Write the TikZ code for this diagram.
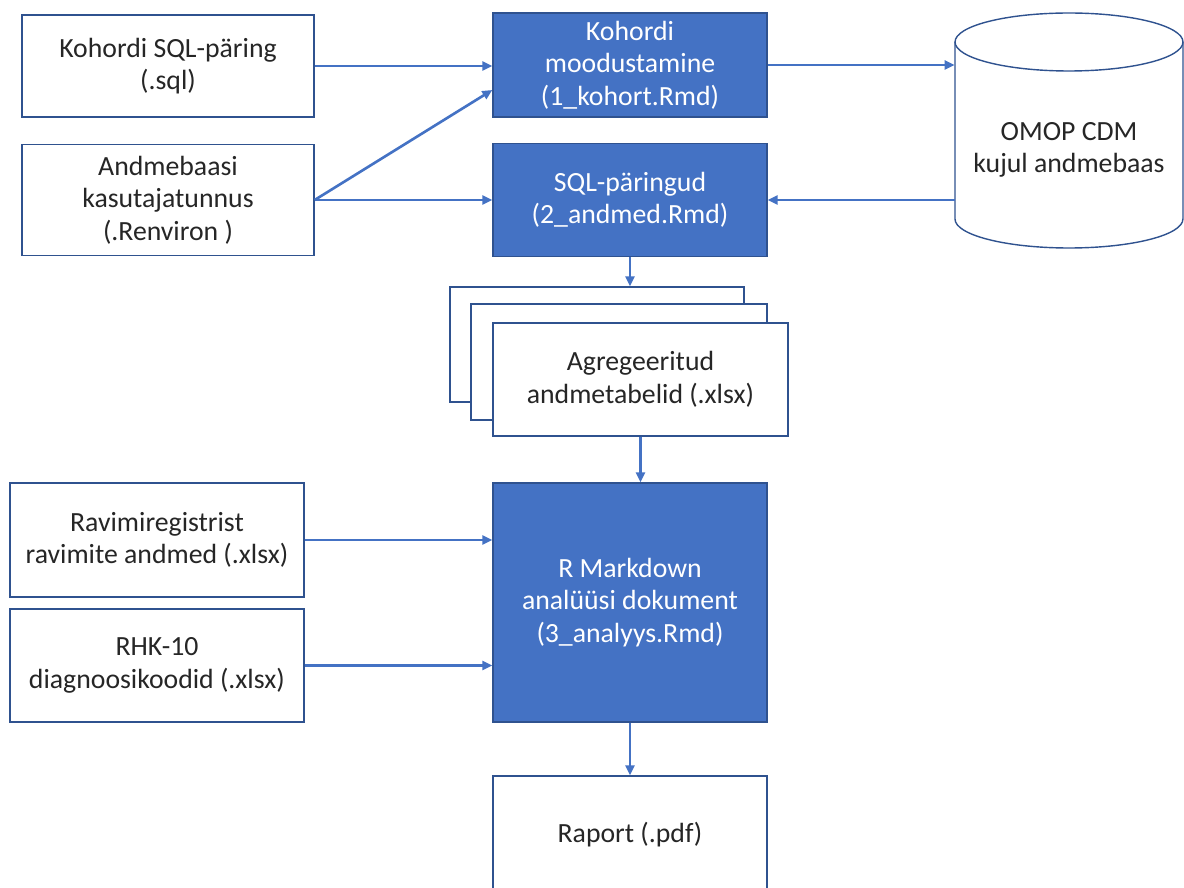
\documentclass[tikz,border=0pt]{standalone}
\usepackage{fontspec}
\setmainfont{Carlito}
\usepackage{xcolor}
\usetikzlibrary{arrows.meta, positioning}

\definecolor{plokk}{HTML}{4472C4}
\definecolor{plokkjoon}{HTML}{2F528F}
\definecolor{tekst}{HTML}{262626}

\tikzset{
  fail/.style={draw=plokkjoon, line width=0.8pt, fill=white, align=center,
    text=tekst, font=\fontsize{15.8}{18.5}\selectfont},
  skript/.style={draw=plokkjoon, line width=0.8pt, fill=plokk, align=center,
    text=white, font=\fontsize{15.8}{18.5}\selectfont, minimum width=5.48cm},
  nool/.style={draw=plokk, line width=1.5pt, -{Triangle[length=2mm,width=1.8mm]}},
}

\begin{document}
\begin{tikzpicture}[x=0.02cm, y=-0.02cm]
        \useasboundingbox (0,0) rectangle (1184,888);
        % Sisendid vasakul
        \node[fail, minimum width=5.84cm, minimum height=2.04cm] (sql) at (168,66) {Kohordi SQL-päring\\(.sql)};
        \node[fail, minimum width=5.84cm, minimum height=2.22cm] (kasutaja) at (168,200) {Andmebaasi\\kasutajatunnus\\(.Renviron )};
        % Skriptid
        \node[skript, minimum height=2.08cm] (kohort) at (630,65) {Kohordi\\moodustamine\\(1\_kohort.Rmd)};
        \node[skript, minimum height=2.26cm] (andmed) at (630,200) {SQL-päringud\\(2\_andmed.Rmd)};
        % Andmebaas (silinder)
        \draw[plokkjoon, line width=0.8pt, fill=white] (955,42) -- (955,219)
            arc[start angle=180, end angle=360, x radius=2.28cm, y radius=0.58cm] -- (1183,42);
        \draw[plokkjoon, line width=0.8pt, fill=white] (1069,42) ellipse [x radius=2.28cm, y radius=0.58cm];
        \node[align=center, text=tekst, font=\fontsize{15.8}{18.5}\selectfont,
            minimum width=4.56cm, minimum height=3.54cm] (db) at (1069,150) {OMOP CDM\\kujul andmebaas};
        % Agregeeritud tabelid (virn)
        \node[fail, minimum width=5.88cm, minimum height=2.3cm] (tabel3) at (597,344.5) {};
        \node[fail, minimum width=5.92cm, minimum height=2.32cm] (tabel2) at (619,362) {};
        \node[fail, minimum width=5.9cm, minimum height=2.26cm] (tabel) at (640.5,379.5) {Agregeeritud\\andmetabelid (.xlsx)};
        % Analüüs
        \node[skript, minimum height=4.78cm] (analyys) at (630,602.5) {R Markdown\\analüüsi dokument\\(3\_analyys.Rmd)};
        \node[fail, minimum width=5.88cm, minimum height=2.28cm] (ravim) at (157,540) {Ravimiregistrist\\ravimite andmed (.xlsx)};
        \node[fail, minimum width=5.88cm, minimum height=2.26cm] (rhk) at (157,665.5) {RHK-10\\diagnoosikoodid (.xlsx)};
        \node[fail, minimum width=5.48cm, minimum height=2.34cm] (raport) at (630,834.5) {Raport (.pdf)};
        % Nooled
        \draw[nool] (sql.east) -- (sql.east -| kohort.west);
        \draw[nool] (kasutaja.east) -- ([yshift=-0.5cm]kohort.west);
        \draw[nool] (kasutaja.east) -- (andmed.west);
        \draw[nool] (kohort.east) -- (kohort.east -| db.west);
        \draw[nool] (db.west |- andmed.east) -- (andmed.east);
        \draw[nool] (andmed.south) -- (andmed.south |- tabel3.north);
        \draw[nool] (tabel.south) -- (tabel.south |- analyys.north);
        \draw[nool] (ravim.east) -- (ravim.east -| analyys.west);
        \draw[nool] (rhk.east) -- (rhk.east -| analyys.west);
        \draw[nool] (analyys.south) -- (raport.north);
\end{tikzpicture}
\end{document}
